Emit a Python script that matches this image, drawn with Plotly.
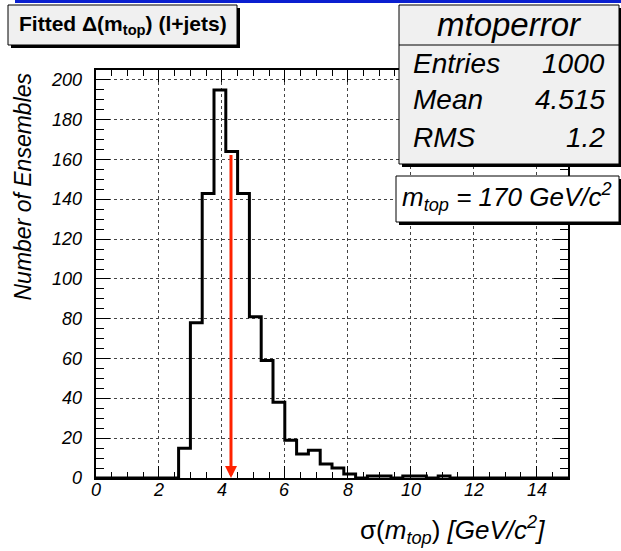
import numpy as np
import plotly.graph_objects as go

# ---- data ----
x_min, x_max, n_bins = 0.0, 15.0, 40
counts = [0, 0, 0, 0, 0, 0, 0, 15, 78, 143,
          195, 164, 143, 81, 59, 38, 19, 12, 14, 7,
          5, 2, 0, 1, 1, 0, 1, 1, 0, 1,
          0, 0, 0, 0, 0, 0, 0, 0, 0, 0]
x_ticks = [0, 2, 4, 6, 8, 10, 12, 14]
y_ticks = [0, 20, 40, 60, 80, 100, 120, 140, 160, 180, 200]
arrow_x = 4.29
arrow_top = 163
stats_labels = ["Entries", "Mean", "RMS"]
stats_values = ["1000", "4.515", "1.2"]
hist_name = "mtoperror"

edges = np.linspace(x_min, x_max, n_bins + 1)
ys = counts + [counts[-1]]

# ---- layout geometry (pixels) ----
W, H = 621, 551
L, R, T, B = 96, 568, 70, 478
y_range = [0, 205]


def px(xp):
    return (xp - L) / (R - L)


def py(yp):
    return (B - yp) / (B - T)


FONT = "Liberation Sans"

fig = go.Figure()
fig.add_trace(go.Scatter(x=edges, y=ys, mode="lines",
                         line=dict(color="black", width=3, shape="hv"),
                         showlegend=False, hoverinfo="skip"))
# invisible trace to activate top/right tick axes
fig.add_trace(go.Scatter(x=[x_min], y=[0], xaxis="x2", yaxis="y2", mode="markers",
                         marker=dict(opacity=0), showlegend=False, hoverinfo="skip"))

shapes = []
annotations = []


def box(x0, y0, x1, y1, fill, shadow=3):
    shapes.append(dict(type="rect", xref="paper", yref="paper",
                       x0=px(x0 + shadow), x1=px(x1 + shadow),
                       y0=py(y0 + shadow), y1=py(y1 + shadow),
                       fillcolor="black", line=dict(width=0), layer="above"))
    shapes.append(dict(type="rect", xref="paper", yref="paper",
                       x0=px(x0), x1=px(x1), y0=py(y0), y1=py(y1),
                       fillcolor=fill, line=dict(color="black", width=1),
                       layer="above"))


# blue bar at top
shapes.append(dict(type="rect", xref="paper", yref="paper",
                   x0=px(15), x1=px(625), y0=py(-2), y1=py(3),
                   fillcolor="#0a1fd0", line=dict(width=0), layer="above"))

# title box
box(8, 5, 237, 45, "#f0f0f0")
annotations.append(dict(xref="paper", yref="paper", x=px(122.5), y=py(25),
                        text="<b>Fitted Δ(m<sub>top</sub>) (l+jets)</b>",
                        showarrow=False, xanchor="center", yanchor="middle",
                        font=dict(family=FONT, size=21, color="black")))

# stats box
box(399, 5, 619, 164, "#f0f0f0")
shapes.append(dict(type="line", xref="paper", yref="paper",
                   x0=px(399), x1=px(619), y0=py(45), y1=py(45),
                   line=dict(color="black", width=1), layer="above"))
annotations.append(dict(xref="paper", yref="paper", x=px(509), y=py(25),
                        text=hist_name, showarrow=False,
                        xanchor="center", yanchor="middle",
                        font=dict(family=FONT, size=33, color="black", style="italic")))
for i, (lab, val) in enumerate(zip(stats_labels, stats_values)):
    yy = 63 + 37 * i
    annotations.append(dict(xref="paper", yref="paper", x=px(411), y=py(yy),
                            text=lab, showarrow=False, xanchor="left", yanchor="middle",
                            font=dict(family=FONT, size=28, color="black", style="italic")))
    annotations.append(dict(xref="paper", yref="paper", x=px(607), y=py(yy),
                            text=val, showarrow=False, xanchor="right", yanchor="middle",
                            font=dict(family=FONT, size=28, color="black", style="italic")))

# m_top box
box(396, 176, 619, 222, "white")
annotations.append(dict(xref="paper", yref="paper", x=px(400), y=py(197),
                        text="m<sub>top</sub> = 170 GeV/c<sup>2</sup>",
                        showarrow=False, xanchor="left", yanchor="middle",
                        font=dict(family=FONT, size=26, color="black", style="italic")))

# red arrow
annotations.append(dict(x=arrow_x, y=0, ax=arrow_x, ay=arrow_top,
                        xref="x", yref="y", axref="x", ayref="y",
                        text="", showarrow=True, arrowhead=2, arrowsize=0.8,
                        arrowwidth=3, arrowcolor="#ff2200", standoff=0))

# axis titles
annotations.append(dict(xref="paper", yref="paper", x=px(22), y=py(186.5),
                        text="Number of Ensembles", textangle=-90, showarrow=False,
                        xanchor="center", yanchor="middle",
                        font=dict(family=FONT, size=23, color="black", style="italic")))
annotations.append(dict(xref="paper", yref="paper", x=px(547), y=py(530),
                        text="σ(<i>m</i><sub><i>top</i></sub>) <i>[GeV/c</i><sup><i>2</i></sup><i>]</i>",
                        showarrow=False, xanchor="right", yanchor="middle",
                        font=dict(family=FONT, size=26, color="black")))

# tick labels (italic, ROOT style) placed on the axis scales
tick_font = dict(family=FONT, size=18, color="black", style="italic")
for v in x_ticks:
    annotations.append(dict(xref="x", yref="paper", x=v, y=py(490),
                            text=str(v), showarrow=False,
                            xanchor="center", yanchor="middle", font=tick_font))
for v in y_ticks:
    annotations.append(dict(xref="paper", yref="y", x=px(84), y=v,
                            text=str(v), showarrow=False,
                            xanchor="right", yanchor="middle", font=tick_font))

fig.update_layout(
    width=W, height=H,
    margin=dict(l=L, r=W - R, t=T, b=H - B, pad=0),
    paper_bgcolor="white", plot_bgcolor="white",
    showlegend=False,
    shapes=shapes, annotations=annotations,
    xaxis=dict(range=[x_min, x_max], tickvals=x_ticks, showticklabels=False,
               showline=True, linecolor="black", linewidth=2, mirror=True,
               ticks="inside", ticklen=12, tickwidth=1, tickcolor="black",
               minor=dict(ticks="inside", ticklen=6, dtick=0.5, tickcolor="black", showgrid=False),
               showgrid=True, gridcolor="#444", griddash="dot", gridwidth=1,
               zeroline=False),
    yaxis=dict(range=y_range, tickvals=y_ticks, showticklabels=False,
               showline=True, linecolor="black", linewidth=2, mirror=True,
               ticks="inside", ticklen=14, tickwidth=1, tickcolor="black",
               minor=dict(ticks="inside", ticklen=8, dtick=5, tickcolor="black", showgrid=False),
               showgrid=True, gridcolor="#444", griddash="dot", gridwidth=1,
               zeroline=False),
    xaxis2=dict(range=[x_min, x_max], overlaying="x", side="top", anchor="y2",
                tickvals=x_ticks, showticklabels=False,
                ticks="inside", ticklen=12, tickwidth=1, tickcolor="black",
                minor=dict(ticks="inside", ticklen=6, dtick=0.5, tickcolor="black", showgrid=False),
                showgrid=False, zeroline=False, showline=False),
    yaxis2=dict(range=y_range, overlaying="y", side="right", anchor="x2",
                tickvals=y_ticks, showticklabels=False,
                ticks="inside", ticklen=14, tickwidth=1, tickcolor="black",
                minor=dict(ticks="inside", ticklen=8, dtick=5, tickcolor="black", showgrid=False),
                showgrid=False, zeroline=False, showline=False),
)

fig.write_html("out.html")
